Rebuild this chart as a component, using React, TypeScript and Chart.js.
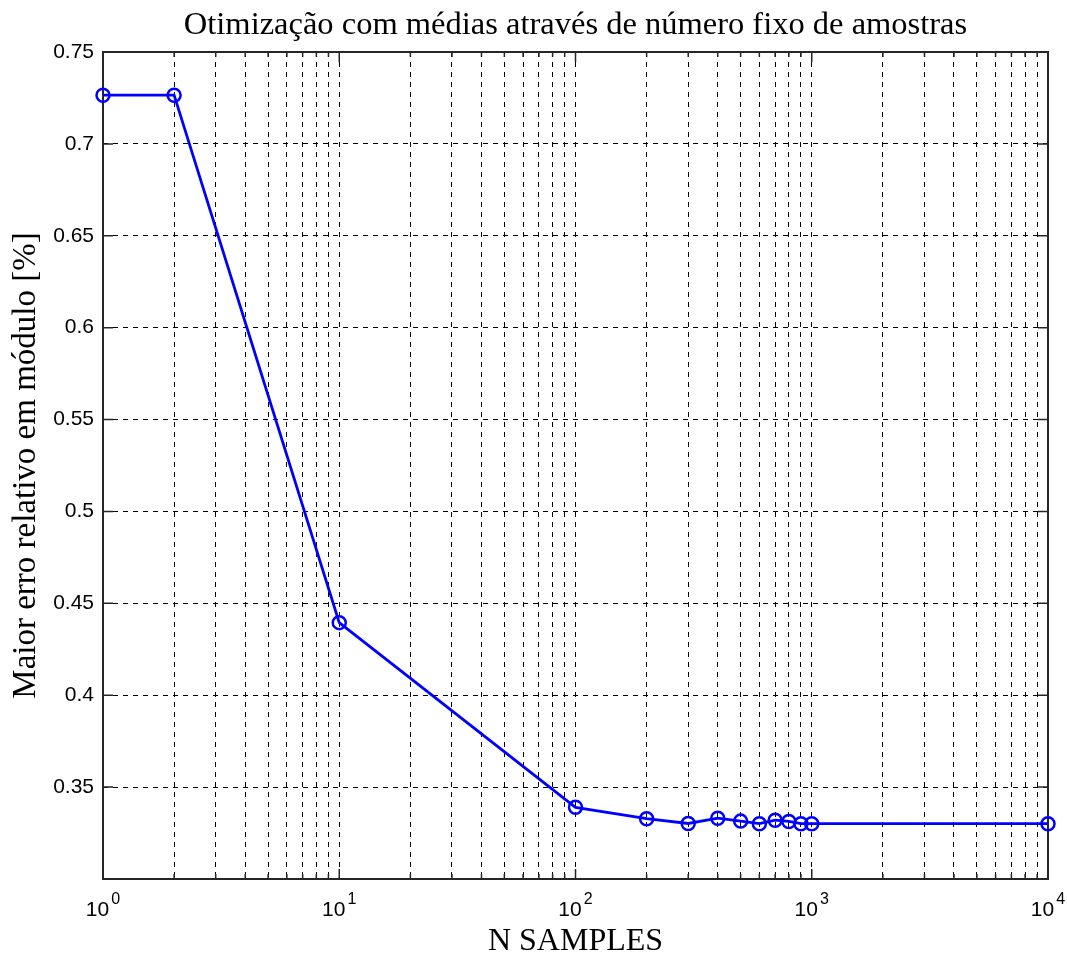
import React, { useEffect, useRef } from "react";
import { Chart, registerables } from "chart.js";

Chart.register(...registerables);

const TITLE = "Otimização com médias através de número fixo de amostras";
const X_TITLE = "N SAMPLES";
const Y_TITLE = "Maior erro relativo em módulo [%]";

const N_SAMPLES = [1, 2, 10, 100, 200, 300, 400, 500, 600, 700, 800, 900, 1000, 10000];
const MAX_ERROR = [0.7265, 0.7265, 0.4395, 0.339, 0.3328, 0.3302, 0.3331, 0.3315, 0.3301, 0.332, 0.3313, 0.3301, 0.3301, 0.3301];

const Y_TICKS = [0.3, 0.35, 0.4, 0.45, 0.5, 0.55, 0.6, 0.65, 0.7, 0.75];
const X_DECADE_EXPONENTS = [0, 1, 2, 3, 4];
const X_MINOR_FACTORS = [1, 2, 3, 4, 5, 6, 7, 8, 9];

const X_TICKS: number[] = [];
X_DECADE_EXPONENTS.forEach((e) => {
  if (e === 4) {
    X_TICKS.push(10000);
  } else {
    X_MINOR_FACTORS.forEach((f) => X_TICKS.push(f * Math.pow(10, e)));
  }
});

const AXIS_COLOR = "#262626";
const LINE_COLOR = "#0000ff";
const SERIF = "'Liberation Serif', 'Times New Roman', serif";
const SANS = "'Liberation Sans', Arial, sans-serif";

const matlabPlugin = {
  id: "matlabLook",
  beforeDraw(chart: any) {
    const { ctx, width, height } = chart;
    ctx.save();
    ctx.fillStyle = "#ffffff";
    ctx.fillRect(0, 0, width, height);
    ctx.restore();
  },
  beforeDatasetsDraw(chart: any) {
    const { ctx, chartArea, scales } = chart;
    const { left, right, top, bottom } = chartArea;
    const x = scales.x;
    const y = scales.y;
    ctx.save();
    ctx.strokeStyle = AXIS_COLOR;
    ctx.lineWidth = 1.5;
    ctx.setLineDash([]);
    ctx.beginPath();
    X_TICKS.forEach((v) => {
      const px = x.getPixelForValue(v);
      const major = Math.abs(Math.log10(v) - Math.round(Math.log10(v))) < 1e-9;
      const len = major ? 10 : 5;
      ctx.moveTo(px, bottom);
      ctx.lineTo(px, bottom - len);
      ctx.moveTo(px, top);
      ctx.lineTo(px, top + len);
    });
    Y_TICKS.forEach((v) => {
      const py = y.getPixelForValue(v);
      ctx.moveTo(left, py);
      ctx.lineTo(left + 10, py);
      ctx.moveTo(right, py);
      ctx.lineTo(right - 10, py);
    });
    ctx.stroke();
    ctx.lineWidth = 2;
    ctx.strokeRect(left, top, right - left, bottom - top);
    ctx.restore();
  },
  afterDraw(chart: any) {
    const { ctx, chartArea, scales } = chart;
    const { left, right, bottom } = chartArea;
    const x = scales.x;
    ctx.save();
    ctx.fillStyle = "#000000";
    X_DECADE_EXPONENTS.forEach((e) => {
      const px = x.getPixelForValue(Math.pow(10, e));
      ctx.font = `21px ${SANS}`;
      const baseW = ctx.measureText("10").width;
      ctx.font = `16px ${SANS}`;
      const expW = ctx.measureText(String(e)).width;
      const gap = 2;
      const total = baseW + expW + gap;
      const startX = px - total / 2;
      ctx.textAlign = "left";
      ctx.textBaseline = "alphabetic";
      ctx.font = `21px ${SANS}`;
      ctx.fillText("10", startX, bottom + 37);
      ctx.font = `16px ${SANS}`;
      ctx.fillText(String(e), startX + baseW + gap, bottom + 25);
    });
    ctx.font = `32.5px ${SERIF}`;
    ctx.textAlign = "center";
    ctx.textBaseline = "middle";
    ctx.fillText(TITLE, (left + right) / 2, 25);
    ctx.restore();
  },
};

export default function App() {
  const canvasRef = useRef<HTMLCanvasElement | null>(null);

  useEffect(() => {
    const canvas = canvasRef.current;
    if (!canvas) return;
    const chart = new Chart(canvas, {
      type: "line",
      data: {
        datasets: [
          {
            data: N_SAMPLES.map((n, i) => ({ x: n, y: MAX_ERROR[i] })),
            borderColor: LINE_COLOR,
            backgroundColor: "rgba(0,0,0,0)",
            borderWidth: 2.8,
            pointStyle: "circle",
            pointRadius: 6.5,
            pointBorderWidth: 2.5,
            pointBorderColor: LINE_COLOR,
            pointBackgroundColor: "rgba(0,0,0,0)",
            tension: 0,
            clip: false as any,
          },
        ],
      },
      options: {
        responsive: false,
        animation: false,
        devicePixelRatio: 1,
        layout: { padding: { top: 52, right: 19, left: 0, bottom: 0 } },
        plugins: {
          legend: { display: false },
          tooltip: { enabled: false },
          title: { display: false },
        },
        scales: {
          x: {
            type: "logarithmic",
            min: 1,
            max: 10000,
            afterBuildTicks: (scale: any) => {
              scale.ticks = X_TICKS.map((v) => ({ value: v }));
            },
            afterFit: (scale: any) => {
              scale.height = 77;
            },
            ticks: { display: false },
            grid: { color: "#000000", lineWidth: 1, drawTicks: false },
            border: { display: false, dash: [5, 5] },
            title: {
              display: true,
              text: X_TITLE,
              color: "#000000",
              font: { family: SERIF, size: 32 },
              padding: { top: 0, bottom: -5 },
            },
          },
          y: {
            type: "linear",
            min: 0.3,
            max: 0.75,
            afterBuildTicks: (scale: any) => {
              scale.ticks = Y_TICKS.map((v) => ({ value: v }));
            },
            afterFit: (scale: any) => {
              scale.width = 103;
            },
            ticks: {
              color: "#000000",
              padding: 9,
              font: { family: SANS, size: 21 },
              callback: (v: any) => (Math.abs(Number(v) - 0.3) < 1e-9 ? "" : String(Number(Number(v).toFixed(2)))),
            },
            grid: { color: "#000000", lineWidth: 1, drawTicks: false },
            border: { display: false, dash: [5, 5] },
            title: {
              display: true,
              text: Y_TITLE,
              color: "#000000",
              font: { family: SERIF, size: 33 },
              padding: { top: 7, bottom: 0 },
            },
          },
        },
      },
      plugins: [matlabPlugin],
    });
    return () => chart.destroy();
  }, []);

  return (
    <div style={{ position: "absolute", left: 0, top: 0, width: 1067, height: 956, background: "#fff" }}>
      <canvas ref={canvasRef} width={1067} height={956} style={{ display: "block", width: 1067, height: 956 }} />
    </div>
  );
}
